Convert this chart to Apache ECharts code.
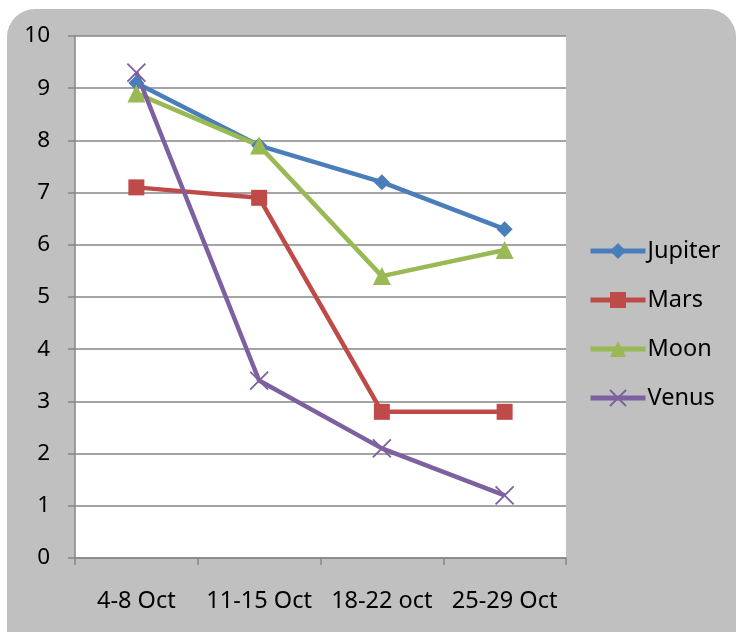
<!DOCTYPE html>
<html>
<head>
<meta charset="utf-8">
<script src="https://cdn.jsdelivr.net/npm/echarts@6/dist/echarts.min.js"></script>
<style>
  html, body { margin: 0; padding: 0; background: #ffffff; }
  #chart { width: 741px; height: 632px; }
</style>
</head>
<body>
<div id="chart"></div>
<script>
// Weekly scores per body
const categories = ['4-8 Oct', '11-15 Oct', '18-22 oct', '25-29 Oct'];
const jupiter = [9.1, 7.9, 7.2, 6.3];
const mars = [7.1, 6.9, 2.8, 2.8];
const moon = [8.9, 7.9, 5.4, 5.9];
const venus = [9.3, 3.4, 2.1, 1.2];
const yTicks = [0, 10, 1];

const FONT = '"Noto Sans", "Open Sans", sans-serif';
const AXIS = '#868686';
const crossPath = 'path://M0,0L10,10M10,0L0,10';

function lineSeries(name, data, color, symbol, size, extra) {
  return Object.assign({
    name: name,
    type: 'line',
    data: data,
    symbol: symbol,
    symbolSize: size,
    lineStyle: { color: color, width: 4.5 },
    itemStyle: { color: color },
    emphasis: { disabled: true },
    z: 3
  }, extra || {});
}

const chart = echarts.init(document.getElementById('chart'), null, { renderer: 'canvas' });
chart.setOption({
  animation: false,
  graphic: [{
    type: 'rect',
    shape: { x: 7, y: 9, width: 729, height: 640, r: [28, 28, 0, 0] },
    style: { fill: '#c0c0c0' },
    z: -10
  }],
  grid: {
    left: 75, top: 36, width: 491, height: 522,
    show: true, backgroundColor: '#ffffff', borderWidth: 0
  },
  legend: {
    orient: 'vertical',
    left: 588, top: 239,
    padding: 0,
    itemGap: 25,
    itemWidth: 55, itemHeight: 20,
    lineStyle: { width: 5 },
    textStyle: { fontFamily: FONT, fontSize: 23.5, lineHeight: 24, color: '#000', padding: [0, 0, 0, -3] },
    data: ['Jupiter', 'Mars', 'Moon', 'Venus']
  },
  xAxis: {
    type: 'category',
    data: categories,
    boundaryGap: true,
    axisLine: { lineStyle: { color: AXIS, width: 1.5 } },
    axisTick: { show: true, interval: 0, length: 7, lineStyle: { color: AXIS, width: 1.5 } },
    axisLabel: { interval: 0, hideOverlap: false, fontFamily: FONT, fontSize: 23.5, lineHeight: 24, color: '#000', margin: 31 },
    splitLine: { show: false }
  },
  yAxis: {
    type: 'value',
    min: yTicks[0], max: yTicks[1], interval: yTicks[2],
    axisLine: { show: true, lineStyle: { color: AXIS, width: 1.5 } },
    axisTick: { show: true, length: 7, lineStyle: { color: AXIS, width: 1.5 } },
    axisLabel: { fontFamily: FONT, fontSize: 22.5, color: '#000', margin: 25 },
    splitLine: { lineStyle: { color: AXIS, width: 1.5 } }
  },
  series: [
    lineSeries('Jupiter', jupiter, '#4a7ebb', 'diamond', 16),
    lineSeries('Mars', mars, '#be4b48', 'rect', 16),
    lineSeries('Moon', moon, '#98b954', 'triangle', 18),
    lineSeries('Venus', venus, '#7d60a0', crossPath, 18, {
      itemStyle: { color: 'rgba(0,0,0,0)', borderColor: '#7d60a0', borderWidth: 1.8 }
    })
  ]
});
</script>
</body>
</html>
